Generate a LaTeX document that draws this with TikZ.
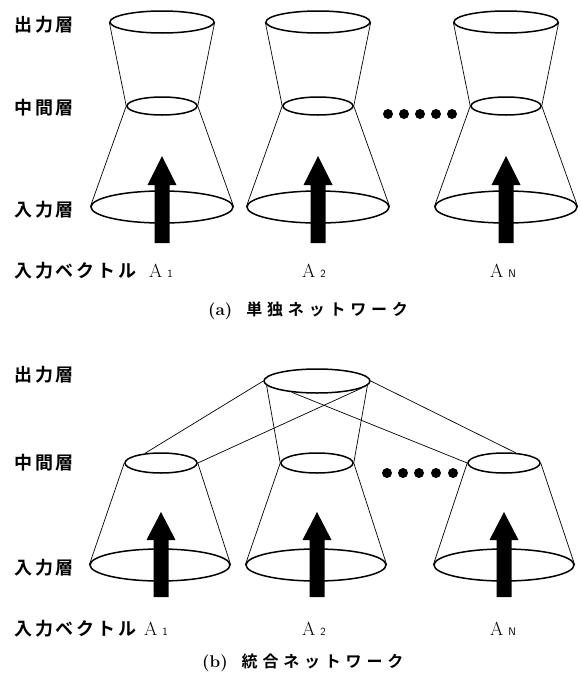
\documentclass[tikz,border=0pt]{standalone}
\usepackage{fontspec}
\newfontfamily\jp{Noto Sans CJK JP Bold}[LetterSpace=16]
\newfontfamily\jpc{Noto Sans CJK JP Bold}[LetterSpace=30]
\usetikzlibrary{shapes.geometric,calc}
\tikzset{
  lay/.style={ellipse,draw,line width=1.5pt,inner sep=0pt,minimum width=#1},
  conn/.style={line width=0.7pt},
  lbl/.style={anchor=west,inner sep=0pt,font=\jp\fontsize{18}{18}\selectfont},
  avec/.style={anchor=west,inner sep=0pt,font=\fontsize{19}{19}\selectfont},
  captxt/.style={anchor=west,inner sep=0pt,font=\fontsize{17}{17}\selectfont\bfseries},
  dot/.style={circle,fill,inner sep=0pt,minimum size=10pt}
}
\newcommand{\upar}[4]{% x, tip y, head base y, bottom y
  \fill (#1-7.5,#4) -- (#1-7.5,#3) -- (#1-14.5,#3) -- (#1,#2) -- (#1+14.5,#3) -- (#1+7.5,#3) -- (#1+7.5,#4) -- cycle;}
\newcommand{\Asub}[1]{A\hspace{5pt}{\sffamily\fontsize{11}{11}\selectfont #1}}
\begin{document}
\begin{tikzpicture}[x=1pt,y=-1pt]
\useasboundingbox (0,0) rectangle (581,675);
% ---------- (a) ----------
\foreach \c/\n in {162/1,318/2,506/3}{
  \node[lay=104pt,minimum height=22pt] (ao\n) at (\c,22) {};
  \node[lay=70pt,minimum height=18pt] (am\n) at (\c,106) {};
  \node[lay=142pt,minimum height=32pt] (ai\n) at (\c,207) {};
  \draw[conn] (ao\n.west) -- (am\n.west);
  \draw[conn] (ao\n.east) -- (am\n.east);
  \draw[conn] (am\n.west) -- (ai\n.west);
  \draw[conn] (am\n.east) -- (ai\n.east);
  \upar{\c}{156}{185}{243}
}
\foreach \x/\k in {388/1,404/2,420/3,436/4,452/5}{\node[dot] (ad\k) at (\x,114) {};}
\node[lbl] (ta1) at (14,25) {出力層};
\node[lbl] (ta2) at (14,108) {中間層};
\node[lbl] (ta3) at (14,210) {入力層};
\node[lbl] (ta4) at (14,271) {入力ベクトル};
\node[avec] (aa1) at (149,271) {\Asub{1}};
\node[avec] (aa2) at (302,271) {\Asub{2}};
\node[avec] (aa3) at (490,271) {\Asub{N}};
\node[captxt] (capa) at (208,311) {(a)\hspace{14pt}{\jpc\mdseries\fontsize{16}{16}\selectfont 単独ネットワーク}};
% ---------- (b) ----------
\node[lay=106pt,minimum height=24pt] (bo) at (317,381) {};
\foreach \c/\d/\n in {161/160/1,317/316/2,504/504/3}{
  \node[lay=72pt,minimum height=20pt] (bm\n) at (\c,463) {};
  \node[lay=140pt,minimum height=32pt] (bi\n) at (\d,565) {};
  \draw[conn] (bm\n.west) -- (bi\n.west);
  \draw[conn] (bm\n.east) -- (bi\n.east);
  \upar{\c}{512}{540}{597}
}
\draw[conn] (bo.west) -- (bm1.149);
\draw[conn] (bm1.east) -- (bo.-9);
\draw[conn] (bo.204) -- (bm3.west);
\draw[conn] (bo.east) -- (bm3.41);
\draw[conn] (bo.185) -- (bm2.west);
\draw[conn] (bo.-5) -- (bm2.east);
\foreach \x/\k in {387/1,403/2,419/3,436/4,453/5}{\node[dot] (bd\k) at (\x,473) {};}
\node[lbl] (tb1) at (14,375) {出力層};
\node[lbl] (tb2) at (14,463) {中間層};
\node[lbl] (tb3) at (14,568) {入力層};
\node[lbl] (tb4) at (14,629) {入力ベクトル};
\node[avec] (ba1) at (144,629) {\Asub{1}};
\node[avec] (ba2) at (302,629) {\Asub{2}};
\node[avec] (ba3) at (490,629) {\Asub{N}};
\node[captxt] (capb) at (202,663) {(b)\hspace{14pt}{\jpc\mdseries\fontsize{16}{16}\selectfont 統合ネットワーク}};
\end{tikzpicture}
\end{document}
